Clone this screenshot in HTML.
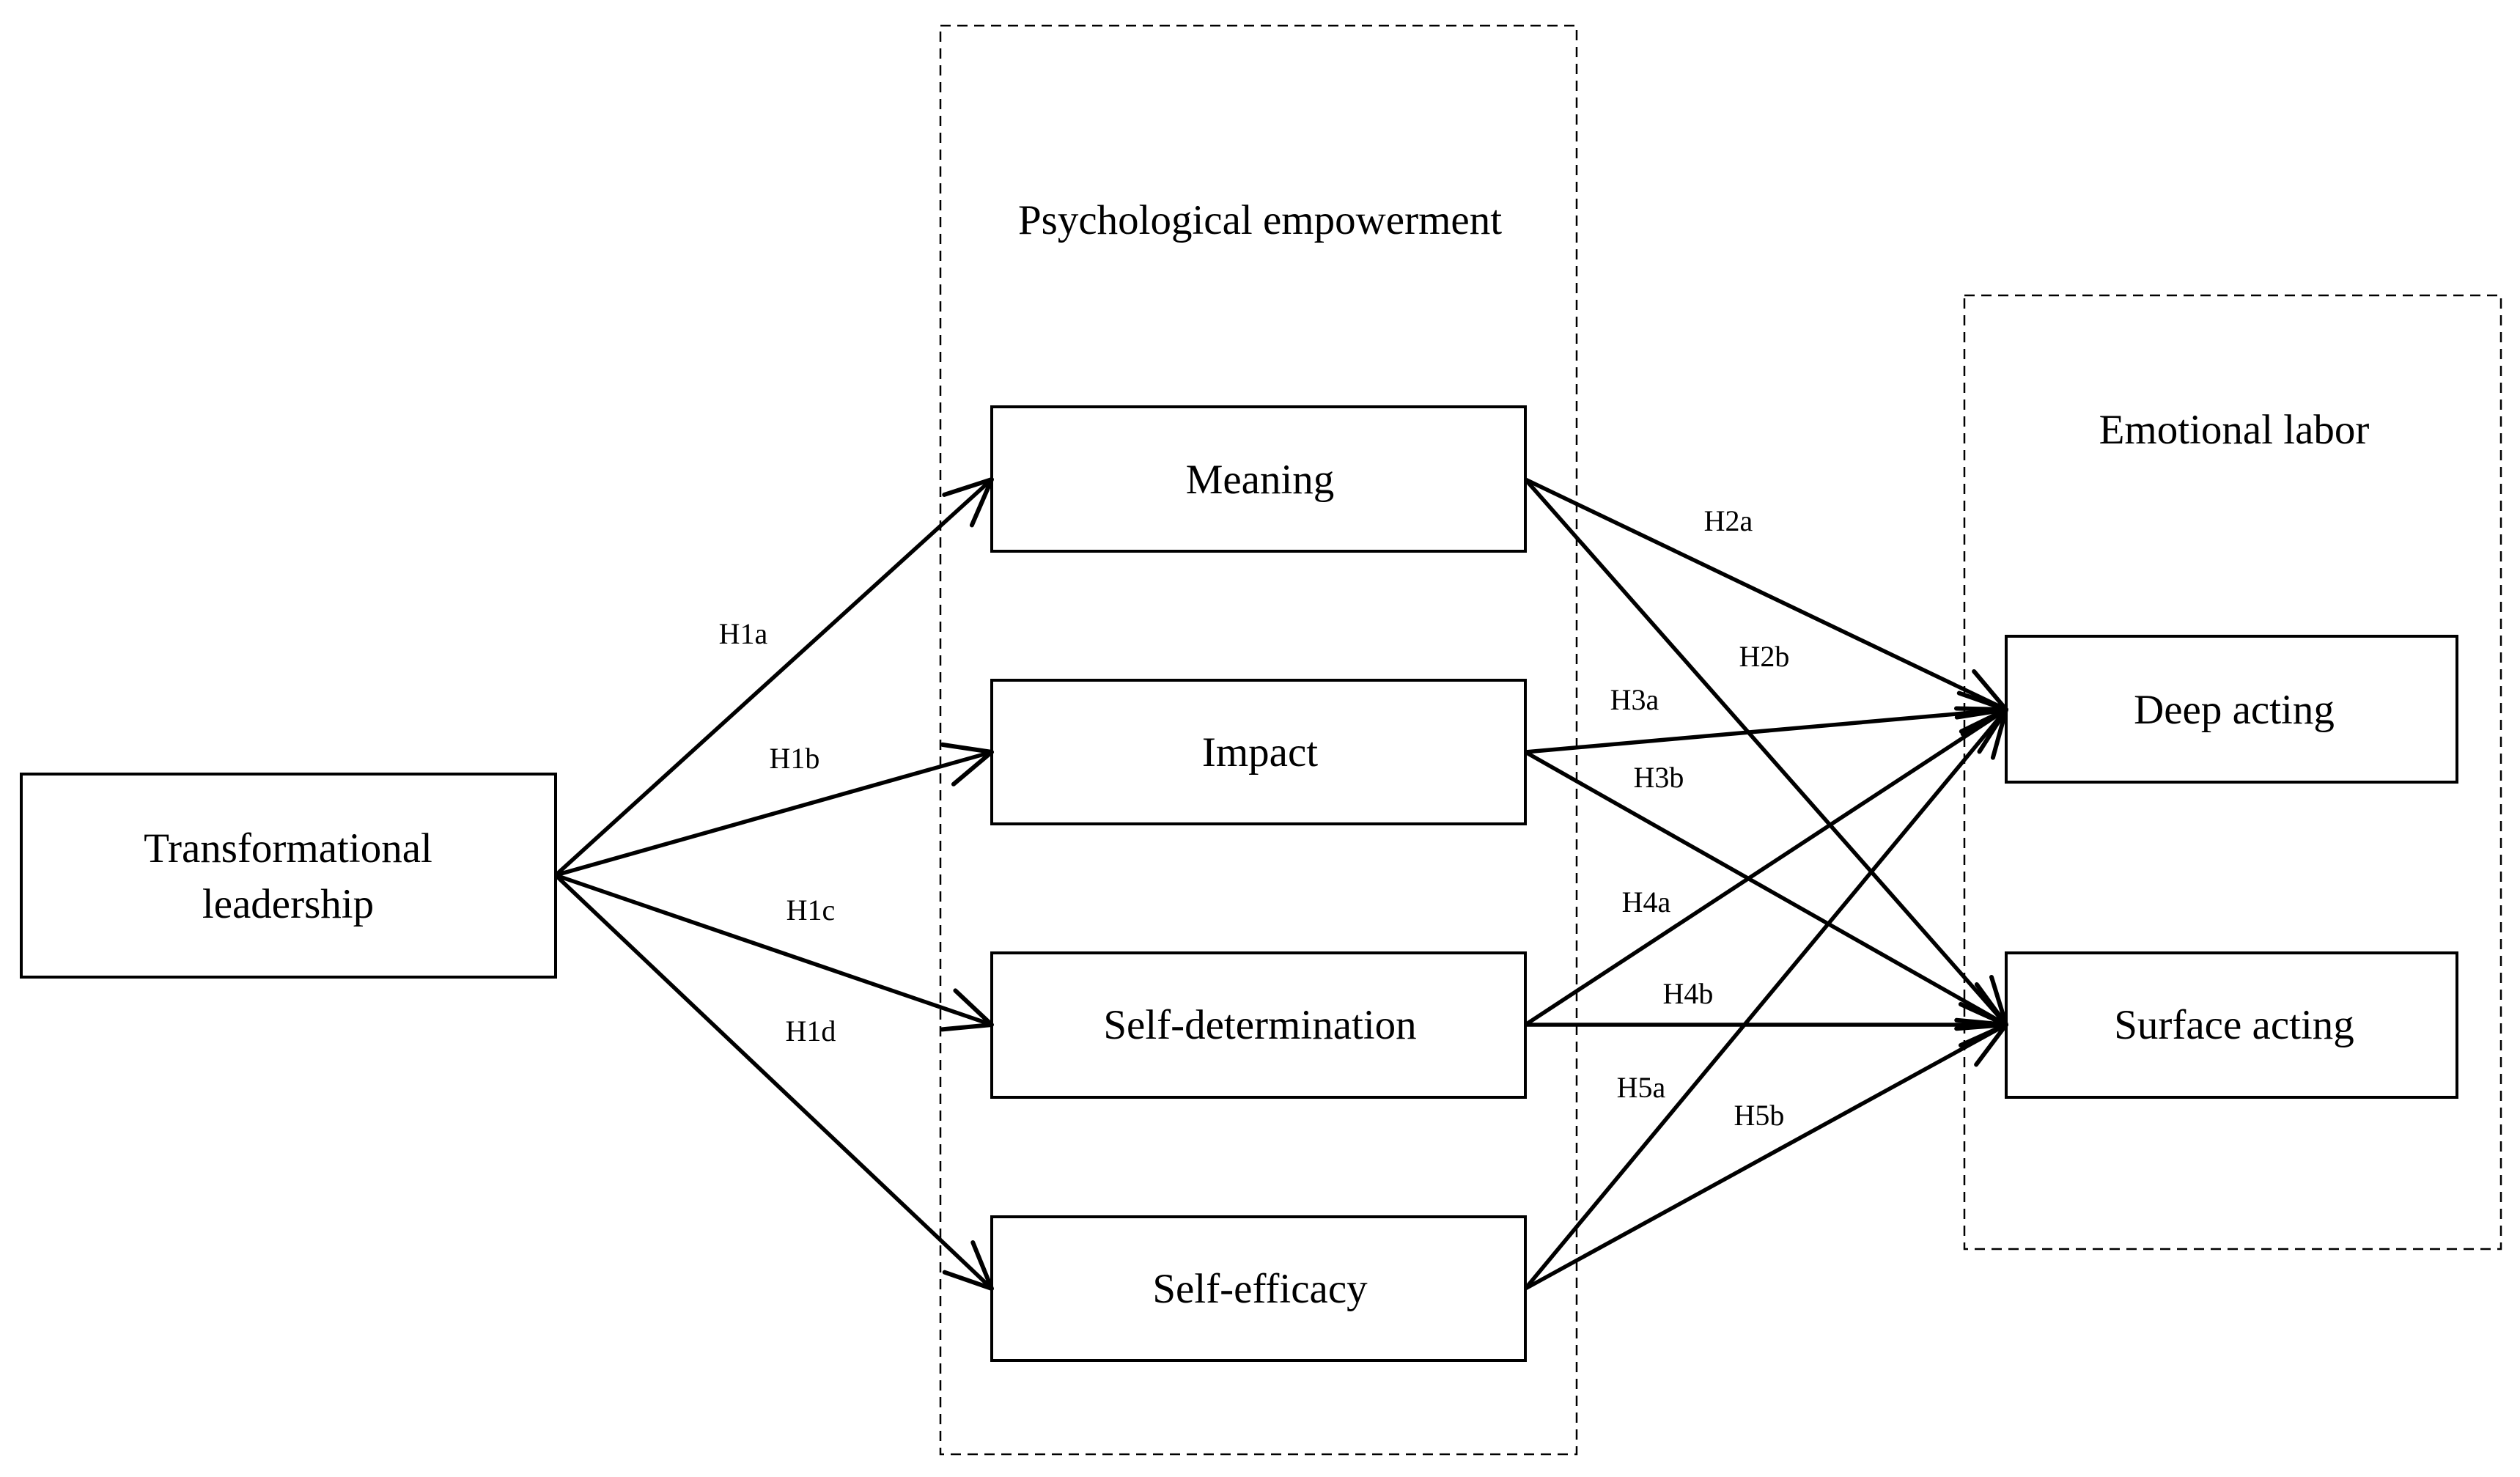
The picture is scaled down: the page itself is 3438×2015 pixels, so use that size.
<!DOCTYPE html>
<html><head><meta charset="utf-8"><style>html,body{margin:0;padding:0;background:#fff}svg{display:block}</style></head>
<body>
<svg width="3438" height="2015" viewBox="0 0 3438 2015" xmlns="http://www.w3.org/2000/svg" font-family="'Liberation Serif', serif">
<defs>
<marker id="a" markerUnits="userSpaceOnUse" markerWidth="80" markerHeight="80" refX="70" refY="40" orient="auto">
<path d="M8,12 L70,40 L8,68" fill="none" stroke="#000" stroke-width="6" stroke-linecap="round" stroke-linejoin="round"/>
</marker>
</defs>
<g fill="none" stroke="#000" stroke-width="2.5" stroke-dasharray="14,9">
<rect x="1283" y="35" width="868" height="1949"/>
<rect x="2680" y="403" width="732" height="1301"/>
</g>
<g fill="#fff" stroke="#000" stroke-width="4">
<rect x="29" y="1056" width="729" height="277"/>
<rect x="1353" y="555" width="728" height="197"/>
<rect x="1353" y="928" width="728" height="196"/>
<rect x="1353" y="1300" width="728" height="197"/>
<rect x="1353" y="1660" width="728" height="196"/>
<rect x="2737" y="868" width="615" height="199"/>
<rect x="2737" y="1300" width="615" height="197"/>
</g>
<g stroke="#000" stroke-width="5.5" marker-end="url(#a)">
<line x1="758" y1="1194" x2="1353" y2="654"/>
<line x1="758" y1="1194" x2="1353" y2="1026"/>
<line x1="758" y1="1194" x2="1353" y2="1398"/>
<line x1="758" y1="1194" x2="1353" y2="1758"/>
<line x1="2081" y1="654" x2="2737" y2="968"/>
<line x1="2081" y1="654" x2="2737" y2="1398"/>
<line x1="2081" y1="1026" x2="2737" y2="968"/>
<line x1="2081" y1="1026" x2="2737" y2="1398"/>
<line x1="2081" y1="1398" x2="2737" y2="968"/>
<line x1="2081" y1="1398" x2="2737" y2="1398"/>
<line x1="2081" y1="1758" x2="2737" y2="968"/>
<line x1="2081" y1="1758" x2="2737" y2="1398"/>
</g>
<g font-size="57" text-anchor="middle" fill="#000">
<text x="1719" y="319">Psychological empowerment</text>
<text x="3048" y="605">Emotional labor</text>
<text x="393" y="1176">Transformational</text>
<text x="393" y="1252">leadership</text>
<text x="1719" y="673">Meaning</text>
<text x="1719" y="1045">Impact</text>
<text x="1719" y="1417">Self-determination</text>
<text x="1719" y="1777">Self-efficacy</text>
<text x="3048" y="987">Deep acting</text>
<text x="3048" y="1417">Surface acting</text>
</g>
<g font-size="40" text-anchor="middle" fill="#000">
<text x="1014" y="878">H1a</text>
<text x="1084" y="1048">H1b</text>
<text x="1106" y="1255">H1c</text>
<text x="1106" y="1420">H1d</text>
<text x="2358" y="724">H2a</text>
<text x="2407" y="909">H2b</text>
<text x="2230" y="968">H3a</text>
<text x="2263" y="1074">H3b</text>
<text x="2246" y="1244">H4a</text>
<text x="2303" y="1369">H4b</text>
<text x="2239" y="1497">H5a</text>
<text x="2400" y="1535">H5b</text>
</g>
</svg>
</body></html>
